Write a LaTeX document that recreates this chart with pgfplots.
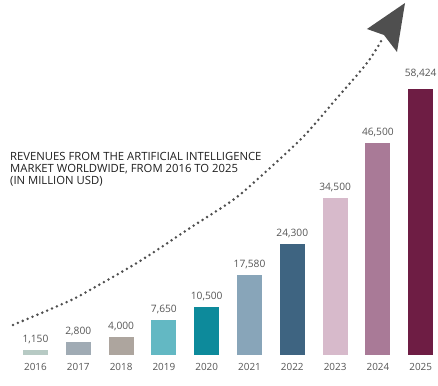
\documentclass[border=0pt]{standalone}
\usepackage{fontspec}
\setmainfont{Open Sans}
\usepackage{pgfplots}
\pgfplotsset{compat=1.18}
\definecolor{c16}{HTML}{B7CAC4}
\definecolor{c17}{HTML}{A0ABB4}
\definecolor{c18}{HTML}{ADA59E}
\definecolor{c19}{HTML}{63B8C3}
\definecolor{c20}{HTML}{0D8A9B}
\definecolor{c21}{HTML}{88A5B9}
\definecolor{c22}{HTML}{3E6481}
\definecolor{c23}{HTML}{D7BACB}
\definecolor{c24}{HTML}{A97A97}
\definecolor{c25}{HTML}{6E1D44}
\definecolor{numgray}{HTML}{555555}
\definecolor{titlegray}{HTML}{1E1E1E}
\definecolor{arrowgray}{HTML}{4F4F4F}
\begin{document}
\begin{tikzpicture}
\pgfplotsset{
  barstyle/.style={ybar, bar width=25pt, bar shift=0pt, draw=none, fill=#1,
    nodes near coords,
    nodes near coords style={font=\fontsize{10.2}{11}\selectfont, text=numgray, anchor=base, yshift=7.5pt},
    /pgf/number format/fixed, /pgf/number format/precision=0,
    /pgf/number format/1000 sep={,}, /pgf/number format/assume math mode=true}
}
\begin{axis}[
  scale only axis, width=438pt, height=385pt,
  xmin=-0.829, xmax=9.404, ymin=-6590, ymax=77960,
  axis x line=middle, axis y line=none, axis line style={draw=none},
  xtick={0,...,9},
  xticklabels={2016,2017,2018,2019,2020,2021,2022,2023,2024,2025},
  ytick=\empty, major tick length=0pt,
  xticklabel style={font=\fontsize{9.9}{11}\selectfont, text=numgray, yshift=-4.3pt},
  clip=false,
]
\coordinate (bbsw) at (rel axis cs:0,0);
\coordinate (bbne) at (rel axis cs:1,1);
\addplot[barstyle=c16] coordinates {(0,1150)};
\addplot[barstyle=c17] coordinates {(1,2800)};
\addplot[barstyle=c18] coordinates {(2,4000)};
\addplot[barstyle=c19] coordinates {(3,7650)};
\addplot[barstyle=c20] coordinates {(4,10500)};
\addplot[barstyle=c21] coordinates {(5,17580)};
\addplot[barstyle=c22] coordinates {(6,24300)};
\addplot[barstyle=c23] coordinates {(7,34500)};
\addplot[barstyle=c24] coordinates {(8,46500)};
\addplot[barstyle=c25, nodes near coords style={yshift=4.5pt}] coordinates {(9,58424)};
% dotted growth curve
\addplot[arrowgray, line width=2.8pt, line cap=round, dash pattern=on 0pt off 5.3pt, smooth, tension=0.5, mark=none]
  coordinates {(-0.526,6588) (0.736,11639) (1.273,14274) (2.442,20642) (3.610,27889) (4.614,34038) (5.245,39089) (6.250,47873) (7.044,56437) (7.745,64123) (8.119,69613)};
% arrowhead
\addplot[fill=arrowgray, draw=none, mark=none]
  coordinates {(8.633,77300) (7.745,71590) (8.142,70270) (8.446,66540)} -- cycle;
\node[anchor=north west, align=left, inner sep=0pt, text=titlegray,
  font=\fontsize{11.3}{11.8}\selectfont]
  at (rel axis cs:0.0228,0.6044)
  {REVENUES FROM THE ARTIFICIAL INTELLIGENCE\\MARKET WORLDWIDE, FROM 2016 TO 2025\\(IN MILLION USD)};
\end{axis}
\pgfresetboundingbox
\path[use as bounding box] (bbsw) rectangle (bbne);
\end{tikzpicture}
\end{document}
